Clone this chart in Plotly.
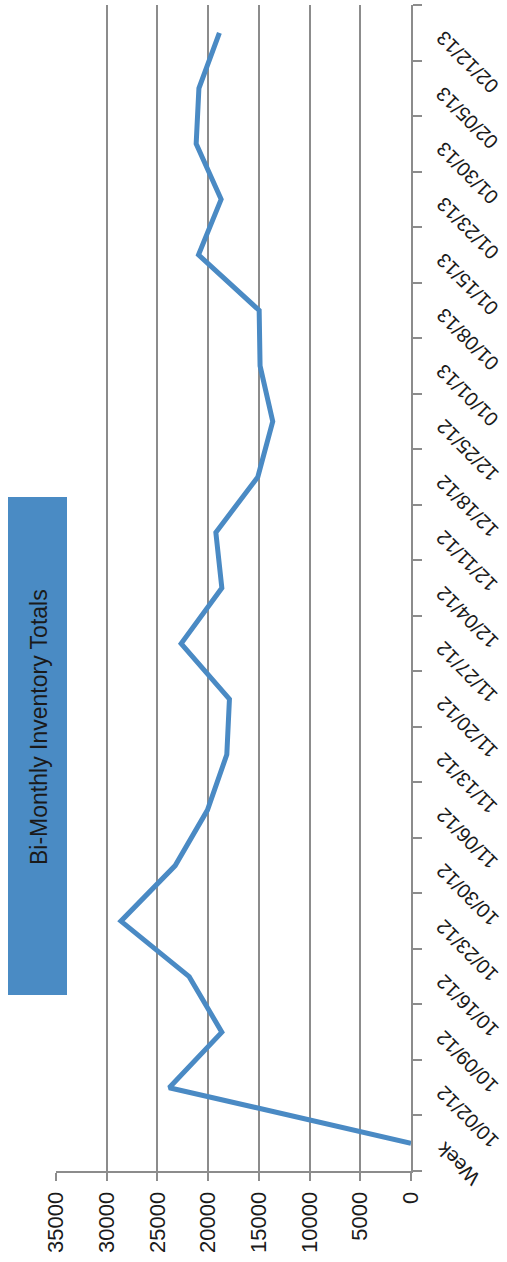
import plotly.graph_objects as go

categories = ["Week", "10/02/12", "10/09/12", "10/16/12", "10/23/12", "10/30/12",
              "11/06/12", "11/13/12", "11/20/12", "11/27/12", "12/04/12", "12/11/12",
              "12/18/12", "12/25/12", "01/01/13", "01/08/13", "01/15/13", "01/23/13",
              "01/30/13", "02/05/13", "02/12/13"]
inventory = [0, 23840, 18650, 21870, 28600, 23250,
             20070, 18160, 17900, 22660, 18650, 19240,
             15100, 13630, 14880, 14970, 20950, 18720,
             21180, 20910, 18890]
value_ticks = [0, 5000, 10000, 15000, 20000, 25000, 30000, 35000]
title_text = "Bi-Monthly Inventory Totals"

W, H = 507, 1262
ML, MR, MT, MB = 56, 96, 5, 91
PW = W - ML - MR
PH = H - MT - MB

FONT = "Liberation Sans, Arial, sans-serif"
GRID = "#8c8c8c"
BLUE = "#4a8ac4"
TXT = "#1a1a1a"

def px_to_paper_x(px):
    return (px - ML) / PW

def px_to_paper_y(py):
    return (H - MB - py) / PH

fig = go.Figure()
fig.add_trace(go.Scatter(
    x=inventory, y=categories, mode="lines",
    line=dict(color=BLUE, width=5), showlegend=False, hoverinfo="x+y",
))

annotations = []
for cat in categories:
    annotations.append(dict(
        text=cat, xref="paper", yref="y", x=px_to_paper_x(429), y=cat,
        xanchor="left", yanchor="top", yshift=9, showarrow=False,
        textangle=-135, font=dict(family=FONT, size=20, color=TXT),
    ))
annotations.append(dict(
    text=title_text, xref="paper", yref="paper",
    x=px_to_paper_x(39), y=px_to_paper_y(727), xanchor="center", yanchor="middle",
    showarrow=False, textangle=-90, font=dict(family=FONT, size=23, color=TXT),
))

fig.update_layout(
    width=W, height=H, margin=dict(l=ML, r=MR, t=MT, b=MB, autoexpand=False),
    paper_bgcolor="white", plot_bgcolor="white",
    font=dict(family=FONT, size=22, color=TXT),
    xaxis=dict(
        range=[35000, 0], tickvals=value_ticks, ticktext=[str(v) for v in value_ticks],
        tickangle=-90, ticks="outside", ticklen=8, tickwidth=1.5, tickcolor=GRID,
        showline=True, linecolor=GRID, linewidth=2, showgrid=True,
        gridcolor=GRID, gridwidth=1.5, zeroline=False, ticklabelstandoff=2,
        automargin=False, tickfont=dict(family=FONT, size=22, color=TXT),
    ),
    yaxis=dict(
        type="category", categoryorder="array", categoryarray=categories,
        range=[-0.5, len(categories) - 0.5], side="right", automargin=False,
        showline=True, linecolor=GRID, linewidth=2, ticks="outside",
        tickson="boundaries", ticklen=9, tickwidth=1.5, tickcolor=GRID,
        showticklabels=False, showgrid=False, zeroline=False,
    ),
    shapes=[dict(
        type="rect", xref="paper", yref="paper", layer="below",
        x0=px_to_paper_x(8), x1=px_to_paper_x(67),
        y0=px_to_paper_y(995), y1=px_to_paper_y(497),
        fillcolor="#4a8bc4", line=dict(width=0),
    )],
    annotations=annotations,
)

fig.write_html("out.html")
